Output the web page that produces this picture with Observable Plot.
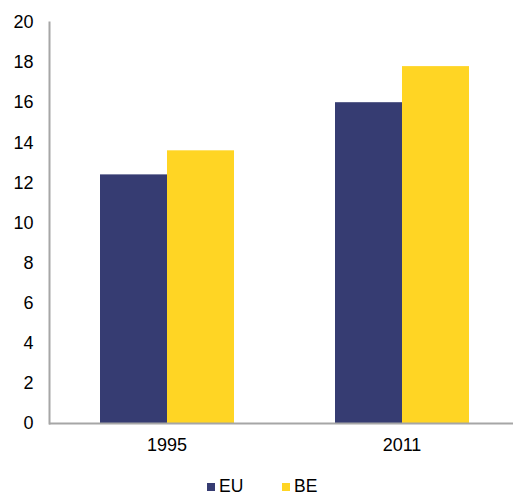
<!DOCTYPE html>
<html>
<head>
<meta charset="utf-8">
<script src="https://cdn.jsdelivr.net/npm/d3@7"></script>
<script src="https://cdn.jsdelivr.net/npm/@observablehq/plot@0.6"></script>
<style>
  body { margin: 0; background: #fff; font-family: "Liberation Sans", Arial, sans-serif; overflow: hidden; }
  #legend { position: relative; height: 23px; font-size: 17.5px; color: #000; }
  .item { position: absolute; top: 1px; display: flex; align-items: center; height: 23px; }
  .sw { width: 8px; height: 8px; margin-right: 4px; }
</style>
</head>
<body>
<div id="chart"></div>
<div id="legend"></div>
<script>
const years = ["1995", "2011"];
const series = ["EU", "BE"];
const euValues = [12.4, 16.0];
const beValues = [13.6, 17.8];
const yTicks = [0, 2, 4, 6, 8, 10, 12, 14, 16, 18, 20];
const colors = ["#363C72", "#FFD524"];

const data = [];
years.forEach((yr, i) => {
  data.push({year: yr, series: "EU", value: euValues[i]});
  data.push({year: yr, series: "BE", value: beValues[i]});
});

const chart = Plot.plot({
  width: 513,
  height: 474,
  marginLeft: 49,
  marginRight: -6,
  marginTop: 22,
  marginBottom: 51,
  style: {fontFamily: "'Liberation Sans', Arial, sans-serif", fontSize: "18px", color: "#000", background: "#fff", overflow: "hidden"},
  fx: {domain: years, padding: 0, label: null, axis: null},
  x: {domain: series, axis: null, paddingInner: 0, paddingOuter: 0.75},
  y: {domain: [0, 20], axis: null},
  color: {domain: series, range: colors},
  marks: [
    Plot.barY(data, {fx: "year", x: "series", y: "value", fill: "series"}),
    Plot.ruleY([0], {stroke: "#A6A6A6", strokeWidth: 2}),
    Plot.frame({anchor: "left", facetAnchor: "left", stroke: "#A6A6A6", strokeWidth: 2}),
    Plot.axisY({ticks: yTicks, tickSize: 0, tickPadding: 16, label: null, fill: "#000", fontSize: 18}),
    Plot.axisFx({anchor: "bottom", tickSize: 0, tickPadding: 15, label: null, fill: "#000", fontSize: 18})
  ]
});
document.getElementById("chart").appendChild(chart);

const legend = document.getElementById("legend");
const legendX = [207, 282];
series.forEach((s, i) => {
  const item = document.createElement("div");
  item.className = "item";
  item.style.left = legendX[i] + "px";
  const sw = document.createElement("div");
  sw.className = "sw";
  sw.style.background = colors[i];
  const t = document.createElement("span");
  t.textContent = s;
  item.appendChild(sw);
  item.appendChild(t);
  legend.appendChild(item);
});
</script>
</body>
</html>
